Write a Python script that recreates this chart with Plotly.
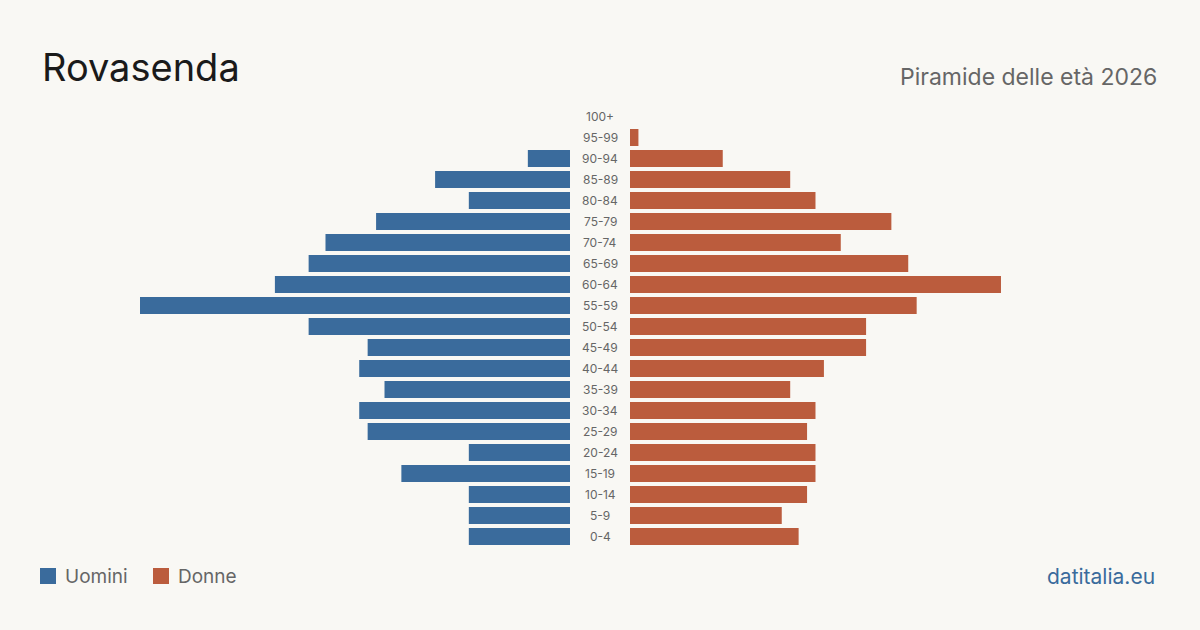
import plotly.graph_objects as go

age_groups = ["0-4", "5-9", "10-14", "15-19", "20-24", "25-29", "30-34", "35-39",
              "40-44", "45-49", "50-54", "55-59", "60-64", "65-69", "70-74",
              "75-79", "80-84", "85-89", "90-94", "95-99", "100+"]
uomini = [12, 12, 12, 20, 12, 24, 25, 22, 25, 24, 31, 51, 35, 31, 29, 23, 12, 16, 5, 0, 0]
donne = [20, 18, 21, 22, 22, 21, 22, 19, 23, 28, 28, 34, 44, 33, 25, 31, 22, 19, 11, 1, 0]

title = "Rovasenda"
subtitle = "Piramide delle età 2026"
source = "datitalia.eu"
legend_names = ["Uomini", "Donne"]

BLUE = "#3a6b9c"
ORANGE = "#bb5c3d"
BG = "#f9f8f4"
FONT = "Inter, Roboto, sans-serif"

W, H = 1200, 630
def px(x):
    return x / W
def py(y):
    return 1 - y / H

xmax = max(max(uomini), max(donne))

fig = go.Figure()
fig.add_trace(go.Bar(y=age_groups, x=uomini, orientation="h", marker=dict(color=BLUE, line=dict(width=0)),
                     xaxis="x", yaxis="y", name=legend_names[0], showlegend=False,
                     hoverinfo="x+y"))
fig.add_trace(go.Bar(y=age_groups, x=donne, orientation="h", marker=dict(color=ORANGE, line=dict(width=0)),
                     xaxis="x2", yaxis="y2", name=legend_names[1], showlegend=False,
                     hoverinfo="x+y"))

ydom = [py(547), py(106)]
common_y = dict(domain=ydom, showticklabels=False, showgrid=False, zeroline=False, showline=False,
                categoryorder="array", categoryarray=age_groups, fixedrange=True)
common_x = dict(showticklabels=False, showgrid=False, zeroline=False, showline=False, fixedrange=True)

fig.update_layout(
    width=W, height=H,
    margin=dict(l=0, r=0, t=0, b=0),
    paper_bgcolor=BG, plot_bgcolor=BG,
    bargap=0.19,
    font=dict(family=FONT),
    xaxis=dict(domain=[px(140), px(570)], range=[xmax, 0], **common_x),
    xaxis2=dict(domain=[px(630), px(1060)], range=[0, xmax], anchor="y2", **common_x),
    yaxis=dict(anchor="x", **common_y),
    yaxis2=dict(anchor="x2", **common_y),
)

annotations = []
for ag in age_groups:
    annotations.append(dict(x=0.5, xref="paper", y=ag, yref="y", text=ag,
                            showarrow=False, xanchor="center", yanchor="middle",
                            font=dict(size=12, color="#666666", family=FONT)))
annotations.append(dict(x=px(40), y=py(67), xref="paper", yref="paper", text=title,
                        showarrow=False, xanchor="left", yanchor="middle",
                        font=dict(size=38, color="#1a1a1a", family=FONT)))
annotations.append(dict(x=px(1159), y=py(77), xref="paper", yref="paper", text=subtitle,
                        showarrow=False, xanchor="right", yanchor="middle",
                        font=dict(size=23, color="#666666", family=FONT)))
annotations.append(dict(x=px(1157), y=py(576), xref="paper", yref="paper", text=source,
                        showarrow=False, xanchor="right", yanchor="middle",
                        font=dict(size=21, color=BLUE, family=FONT)))
annotations.append(dict(x=px(63), y=py(576), xref="paper", yref="paper", text=legend_names[0],
                        showarrow=False, xanchor="left", yanchor="middle",
                        font=dict(size=19, color="#666666", family=FONT)))
annotations.append(dict(x=px(176), y=py(576), xref="paper", yref="paper", text=legend_names[1],
                        showarrow=False, xanchor="left", yanchor="middle",
                        font=dict(size=19, color="#666666", family=FONT)))
fig.update_layout(annotations=annotations)

shapes = [
    dict(type="rect", xref="paper", yref="paper", x0=px(40), x1=px(56), y0=py(584), y1=py(568),
         fillcolor=BLUE, line=dict(width=0)),
    dict(type="rect", xref="paper", yref="paper", x0=px(153), x1=px(169), y0=py(584), y1=py(568),
         fillcolor=ORANGE, line=dict(width=0)),
]
fig.update_layout(shapes=shapes)

fig.write_html("out.html")
